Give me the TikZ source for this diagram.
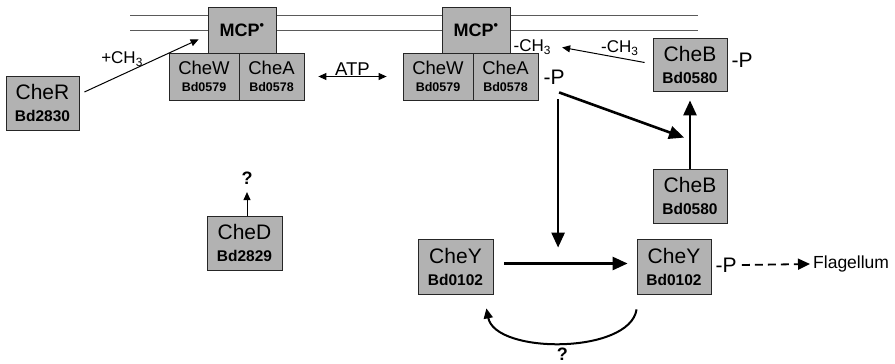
\documentclass[tikz,border=0pt]{standalone}
\usepackage{fontspec}
\setmainfont{Liberation Sans}
\usetikzlibrary{calc, arrows.meta, positioning}
\definecolor{boxgray}{RGB}{178,178,178}
\definecolor{linegray}{RGB}{90,90,90}

\begin{document}
\begin{tikzpicture}[x=1pt, y=-1pt,
  prot/.style={draw=black!85, line width=0.8pt, fill=boxgray, inner sep=0pt, align=center,
    minimum width=74pt, minimum height=54pt, font=\fontsize{20}{20}\selectfont},
  pair/.style={prot, minimum height=47pt, font=\fontsize{16}{16}\selectfont},
  lbl/.style={inner sep=1pt, font=\fontsize{17}{17}\selectfont},
  phos/.style={inner sep=1pt, anchor=west, font=\fontsize{21}{21}\selectfont},
  qmark/.style={inner sep=1pt, font=\fontsize{18}{18}\selectfont\bfseries},
  fine/.style={line width=1pt, >={Triangle[length=8pt, width=7pt]}},
  heavy/.style={line width=2.6pt, >={Triangle[length=15pt, width=13pt]}}]
\useasboundingbox (0,0) rectangle (895,364);

% membrane
\draw[linegray, line width=1pt] (130,15) -- (698,15) (130,30) -- (698,30);

% receptor complexes
\node[prot, minimum width=68pt, minimum height=46pt] (mcpL) at (242,30) {\fontsize{18}{18}\selectfont\bfseries MCP\textsuperscript{\textbullet}};
\node[pair, minimum width=70pt] (chewL) at (204,76.5) {{\fontsize{18.5}{18}\selectfont CheW}\\[1pt]{\fontsize{12.5}{12}\selectfont\bfseries Bd0579}};
\node[pair, minimum width=65pt] (cheaL) at (271.5,76.5) {{\fontsize{18.5}{18}\selectfont CheA}\\[1pt]{\fontsize{12.5}{12}\selectfont\bfseries Bd0578}};
\node[prot, minimum width=68pt, minimum height=46pt] (mcpR) at (476,30) {\fontsize{18}{18}\selectfont\bfseries MCP\textsuperscript{\textbullet}};
\node[pair, minimum width=70pt] (chewR) at (438,76.5) {{\fontsize{18.5}{18}\selectfont CheW}\\[1pt]{\fontsize{12.5}{12}\selectfont\bfseries Bd0579}};
\node[pair, minimum width=65pt] (cheaR) at (505.5,76.5) {{\fontsize{18.5}{18}\selectfont CheA}\\[1pt]{\fontsize{12.5}{12}\selectfont\bfseries Bd0578}};

% other proteins
\node[prot, minimum width=73pt] (cher) at (42.5,103) {{\fontsize{21}{21}\selectfont CheR}\\[2pt]{\fontsize{15.5}{15}\selectfont\bfseries Bd2830}};
\node[prot, minimum height=53pt] (chebT) at (690,64.5) {{\fontsize{21}{21}\selectfont CheB}\\[2pt]{\fontsize{15.5}{15}\selectfont\bfseries Bd0580}};
\node[prot] (chebL) at (690,196) {{\fontsize{21}{21}\selectfont CheB}\\[2pt]{\fontsize{15.5}{15}\selectfont\bfseries Bd0580}};
\node[prot, minimum width=75pt, minimum height=55pt] (cheyL) at (455.5,266.5) {{\fontsize{21}{21}\selectfont CheY}\\[2pt]{\fontsize{15.5}{15}\selectfont\bfseries Bd0102}};
\node[prot, minimum height=55pt] (cheyR) at (674,266.5) {{\fontsize{21}{21}\selectfont CheY}\\[2pt]{\fontsize{15.5}{15}\selectfont\bfseries Bd0102}};
\node[prot, minimum width=75pt] (ched) at (244.5,243) {{\fontsize{21}{21}\selectfont CheD}\\[2pt]{\fontsize{15.5}{15}\selectfont\bfseries Bd2829}};

% side labels
\node[lbl, anchor=west] (mch3) at ([shift={(2,-6)}]mcpR.south east) {-CH\textsubscript{3}};
\node[phos] (pA) at ([shift={(4,0.5)}]cheaR.east) {-P};
\node[phos] (pB) at ([shift={(3,-4.5)}]chebT.east) {-P};
\node[phos] (pC) at ([shift={(3,-1.5)}]cheyR.east) {-P};
\node[anchor=west, inner sep=1pt, font=\fontsize{17.5}{17}\selectfont] (flag) at (812,264) {Flagellum};
\node[qmark] (q1) at ([shift={(2.5,-37)}]ched.north) {?};

% methyl groups
\draw[fine, ->] ([shift={(5,-11)}]cher.east) -- ([shift={(-9,-14)}]mcpL.south west)
  node[lbl, pos=0.33, above=7pt] {+CH\textsubscript{3}};
\draw[fine, ->] ([shift={(-8,-2)}]chebT.west) -- ([xshift=10]mch3.east)
  node[lbl, pos=0.3, above=1pt] {-CH\textsubscript{3}};
\draw[fine, <->] ([xshift=14]cheaL.east) -- ([xshift=-16]chewR.west)
  node[lbl, midway, above, font=\fontsize{18.5}{18}\selectfont] {ATP};
\draw[fine, ->, shorten >=6pt] ([xshift=2.5]ched.north) -- (q1.south);

% phosphotransfer
\draw[heavy, ->] ($(pA.south)+(5,7)$) -- ($(chebL.north)+(-6,-31)$);
\draw[heavy, ->] (chebL.north) -- ([shift={(0,9)}]chebT.south);
\draw[heavy, ->] ($(pA.south)+(4,14)$) -- ($(pA.south |- cheyL.north)+(4,9)$);
\draw[heavy, ->] ([shift={(11,-3)}]cheyL.east) -- ([shift={(-9,-3)}]cheyR.west);
\draw[line width=2pt, >={Triangle[length=10pt, width=9pt]}, ->] ([shift={(0,15)}]cheyR.south west)
  .. controls +(-7,45) and +(9,46) .. ([shift={(-7,14)}]cheyL.south east)
  node[qmark, pos=0.5, below=3pt] {?};
\draw[line width=1.8pt, dash pattern=on 8pt off 5pt, >={Triangle[length=12pt, width=11pt]}, ->]
  ([xshift=4]pC.east) -- ([xshift=-2]flag.west);
\end{tikzpicture}
\end{document}
